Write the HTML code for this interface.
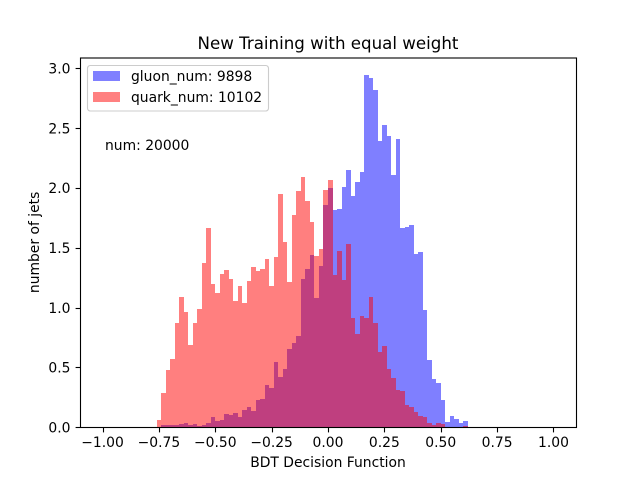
<!DOCTYPE html>
<html>
<head>
<meta charset="utf-8">
<title>New Training with equal weight</title>
<style>
html,body{margin:0;padding:0;background:#fff;}
svg{display:block;}
text{font-family:"DejaVu Sans",sans-serif;fill:#000;}
</style>
</head>
<body>
<svg id="chart" width="640" height="480" viewBox="0 0 640 480" xmlns="http://www.w3.org/2000/svg">
<rect x="0" y="0" width="640" height="480" fill="#fff"/>
<g id="bars"></g>
<g id="ticks"></g>
<rect x="80.5" y="58" width="496" height="369.5" fill="none" stroke="#000" stroke-width="1.1"/>
<text x="328" y="49" font-size="16.67" text-anchor="middle">New Training with equal weight</text>
<text x="328" y="467" font-size="13.89" text-anchor="middle">BDT Decision Function</text>
<text x="39" y="242.4" font-size="13.89" text-anchor="middle" transform="rotate(-90 39 242.4)">number of jets</text>
<text x="105" y="150" font-size="13.89">num: 20000</text>
<g>
<rect x="87.5" y="65.5" width="181" height="45.5" rx="2.8" fill="#fff" fill-opacity="0.8" stroke="#ccc" stroke-width="1.1"/>
<rect x="93" y="71" width="27" height="10" fill="#8080ff"/>
<text x="131" y="81" font-size="13.89">gluon_num: 9898</text>
<rect x="93" y="92" width="27" height="10" fill="#ff8080"/>
<text x="131" y="102" font-size="13.89">quark_num: 10102</text>
</g>
</svg>
<script>
var firstBin = -0.76;
var binWidth = 0.02;
var gluonValues = [
0,.019,.019,.019,.019,.027,.035,.019,.027,.01,.019,.035,.086,.052,.06,.11,.102,.119,.086,.144,.169,
.135,.227,.236,.353,.328,.545,.42,.486,.653,.703,.762,1.238,1.322,1.439,1.08,1.347,1.857,
1.999,1.815,1.823,2.007,2.149,1.932,2.049,2.132,2.943,2.918,2.818,2.392,2.525,2.434,2.107,2.408,1.665,1.673,1.69,
1.447,1.464,.979,.562,.403,.369,.227,.043,.094,.069,.035,.052
];
var quarkValues = [
.06,.286,.478,.57,.87,1.088,.963,.687,.87,.987,1.372,1.664,1.196,1.12,1.28,1.313,1.238,1.054,1.179,1.037,1.221,
1.338,1.305,1.322,1.405,1.18,1.422,1.949,1.548,1.213,1.773,1.974,2.091,1.89,1.715,1.43,1.489,1.982,
2.066,1.271,1.472,1.23,1.531,.913,.779,.929,.913,1.088,.871,.629,.678,.486,.411,.311,.303,.186,.169,
.127,.094,.085,.035,.018,.035,.027,0,0,0,0,.01
];
var xTickValues = [-1, -0.75, -0.5, -0.25, 0, 0.25, 0.5, 0.75, 1];
var xTickLabels = ["\u22121.00", "\u22120.75", "\u22120.50", "\u22120.25", "0.00", "0.25", "0.50", "0.75", "1.00"];
var yTickValues = [0, 0.5, 1, 1.5, 2, 2.5, 3];
var yTickLabels = ["0.0", "0.5", "1.0", "1.5", "2.0", "2.5", "3.0"];

var NS = "http://www.w3.org/2000/svg";
function xScale(v) { return 80 + (v + 1.1) / 2.2 * 496; }
function yScale(v) { return 427.2 - v * 119.7; }

function drawSeries(values, color, seriesName) {
  var parent = document.getElementById("bars");
  values.forEach(function (v, i) {
    if (v <= 0) return;
    var left = firstBin + i * binWidth;
    var x0 = Math.round(xScale(left));
    var x1 = Math.round(xScale(left + binWidth));
    var top = Math.round(yScale(v));
    var el = document.createElementNS(NS, "rect");
    
    
    el.setAttribute("x", x0);
    el.setAttribute("y", top);
    el.setAttribute("width", x1 - x0);
    el.setAttribute("height", 427 - top);
    el.setAttribute("fill", color);
    el.setAttribute("fill-opacity", "0.5");
    el.setAttribute("shape-rendering", "crispEdges");
    parent.appendChild(el);
  });
}
drawSeries(gluonValues, "#0000ff", "gluon");
drawSeries(quarkValues, "#ff0000", "quark");

var tickGroup = document.getElementById("ticks");
xTickValues.forEach(function (v, i) {
  var px = Math.round(xScale(v)) + 0.5;
  var line = document.createElementNS(NS, "line");
  
  
  line.setAttribute("x1", px);
  line.setAttribute("x2", px);
  line.setAttribute("y1", 427.5);
  line.setAttribute("y2", 432.4);
  line.setAttribute("stroke", "#000");
  line.setAttribute("stroke-width", "1.1");
  tickGroup.appendChild(line);
  var label = document.createElementNS(NS, "text");
  
  
  label.setAttribute("x", xScale(v));
  label.setAttribute("y", 447);
  label.setAttribute("font-size", "13.89");
  label.setAttribute("text-anchor", "middle");
  label.textContent = xTickLabels[i];
  tickGroup.appendChild(label);
});
yTickValues.forEach(function (v, i) {
  var py = Math.round(yScale(v)) + 0.5;
  var line = document.createElementNS(NS, "line");
  
  
  line.setAttribute("x1", 75.6);
  line.setAttribute("x2", 80.5);
  line.setAttribute("y1", py);
  line.setAttribute("y2", py);
  line.setAttribute("stroke", "#000");
  line.setAttribute("stroke-width", "1.1");
  tickGroup.appendChild(line);
  var label = document.createElementNS(NS, "text");
  
  
  label.setAttribute("x", 70.5);
  label.setAttribute("y", yScale(v) + 5.3);
  label.setAttribute("font-size", "13.89");
  label.setAttribute("text-anchor", "end");
  label.textContent = yTickLabels[i];
  tickGroup.appendChild(label);
});
</script>
</body>
</html>
